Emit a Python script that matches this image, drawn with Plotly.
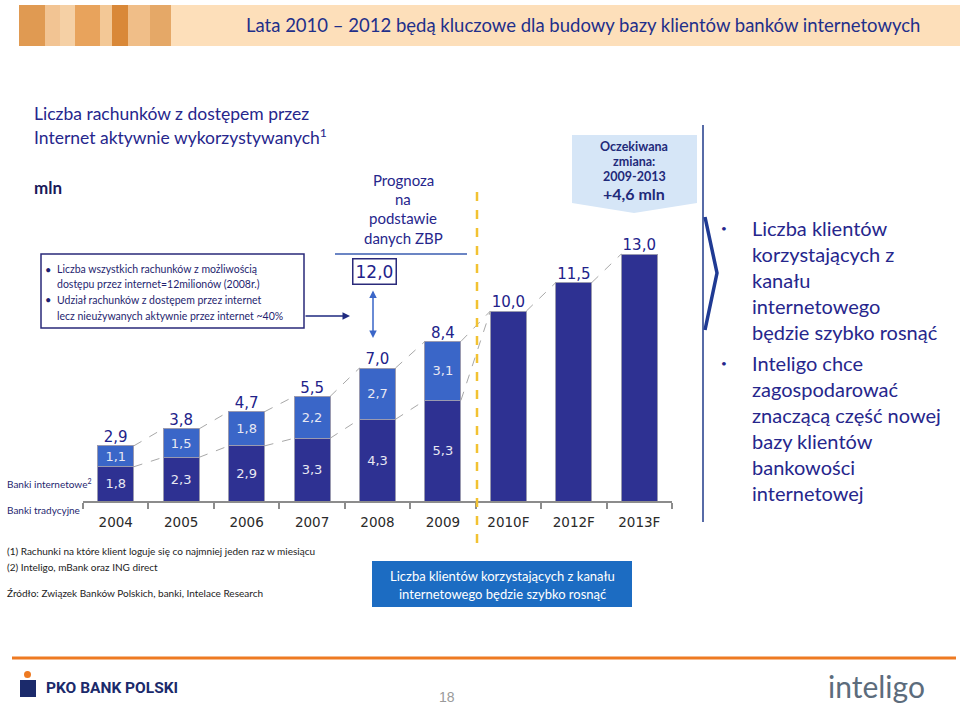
import plotly.graph_objects as go

# ---------------- data ----------------
years = ["2004", "2005", "2006", "2007", "2008", "2009", "2010F", "2012F", "2013F"]
banki_internetowe = [1.8, 2.3, 2.9, 3.3, 4.3, 5.3]
banki_tradycyjne = [1.1, 1.5, 1.8, 2.2, 2.7, 3.1]
prognoza = [10.0, 11.5, 13.0]
prognoza_zbp_2008 = 12.0

W, H = 960, 705
def X(px):
    return px / W
def Y(py):
    return 1 - py / H

def fmt(v):
    return f"{v:.1f}".replace(".", ",")

DARK = "#2E3192"
LIGHT = "#3A66C8"
NAVY = "#22228A"
BARLINE = "#9A9AB0"
BW = 0.55

n_hist = len(banki_internetowe)
x_hist = list(range(n_hist))
x_fc = list(range(n_hist, n_hist + len(prognoza)))
totals = [round(a + b, 1) for a, b in zip(banki_internetowe, banki_tradycyjne)] + prognoza

fig = go.Figure()

fig.add_trace(go.Bar(
    x=x_hist, y=banki_internetowe, width=BW, name="Banki internetowe",
    marker=dict(color=DARK, line=dict(color=BARLINE, width=1)),
    text=[fmt(v) for v in banki_internetowe], textposition="inside",
    insidetextanchor="middle", textangle=0,
    textfont=dict(family="DejaVu Sans", size=13, color="#E8E8F2"),
))
fig.add_trace(go.Bar(
    x=x_hist, y=banki_tradycyjne, width=BW, name="Banki tradycyjne",
    marker=dict(color=LIGHT, line=dict(color=BARLINE, width=1)),
    text=[fmt(v) for v in banki_tradycyjne], textposition="inside",
    insidetextanchor="middle", textangle=0,
    textfont=dict(family="DejaVu Sans", size=13, color="#E8E8F2"),
))
fig.add_trace(go.Bar(
    x=x_fc, y=prognoza, width=BW, name="Prognoza",
    marker=dict(color=DARK, line=dict(color=BARLINE, width=1)),
))

# dashed connectors
lx, ly = [], []
allx = x_hist + x_fc
for i in range(len(allx) - 1):
    lx += [allx[i] + BW / 2, allx[i + 1] - BW / 2, None]
    ly += [totals[i], totals[i + 1], None]
lower = banki_internetowe + [prognoza[0]]
for i in range(len(lower) - 1):
    lx += [i + BW / 2, i + 1 - BW / 2, None]
    ly += [lower[i], lower[i + 1], None]
fig.add_trace(go.Scatter(x=lx, y=ly, mode="lines",
                         line=dict(color="#A8A8A8", width=1, dash="dash"),
                         hoverinfo="skip"))

# totals above bars
fig.add_trace(go.Scatter(
    x=allx, y=totals, mode="text", text=[fmt(v) for v in totals],
    textposition="top center",
    textfont=dict(family="DejaVu Sans", size=15, color=NAVY),
))

fig.update_layout(
    width=W, height=H, margin=dict(l=0, r=0, t=0, b=0),
    paper_bgcolor="white", plot_bgcolor="rgba(0,0,0,0)",
    showlegend=False, barmode="stack",
    xaxis=dict(
        domain=[X(83), X(672)], range=[-0.5, 8.5],
        tickvals=allx, ticktext=years, ticks="",
        showline=True, linecolor="#8C8C8C", linewidth=1.5,
        showgrid=False, zeroline=False, ticklabelstandoff=8,
        tickfont=dict(family="DejaVu Sans", size=13.5, color="#2A2A2A"),
        minor=dict(tickvals=[i - 0.5 for i in range(len(allx) + 1)],
                   ticks="outside", ticklen=6, tickcolor="#8C8C8C", tickwidth=1.5),
    ),
    yaxis=dict(domain=[Y(501), Y(121)], range=[0, 20], visible=False),
)

shapes = []
ann = []

def text(px, py, s, size, color=NAVY, family="Lato", xanchor="left", bold=False):
    if bold:
        s = f"<b>{s}</b>"
    ann.append(dict(x=X(px), y=Y(py), xref="paper", yref="paper", text=s,
                    showarrow=False, xanchor=xanchor, yanchor="middle",
                    font=dict(family=family, size=size, color=color)))

# header band
shapes.append(dict(type="rect", xref="paper", yref="paper", x0=X(171), x1=X(960),
                   y0=Y(46), y1=Y(5), fillcolor="#FDDFBA", line=dict(width=0), layer="below"))
blocks = [(19, 171, "#EDB67A"), (19, 45, "#E09A52"), (45, 60, "#F2C493"), (60, 75, "#F5D0A5"),
          (75, 100, "#E8A35C"), (100, 112, "#F3C896"), (112, 128, "#D98838"),
          (128, 150, "#F0BE88"), (150, 171, "#E5A867")]
for a, b, c in blocks:
    shapes.append(dict(type="rect", xref="paper", yref="paper", x0=X(a), x1=X(b),
                       y0=Y(46), y1=Y(5), fillcolor=c, line=dict(width=0), layer="below"))
text(583, 25, "Lata 2010 – 2012 będą kluczowe dla budowy bazy klientów banków internetowych",
     18.5, color="#1F2F8A", xanchor="center")

# left header texts
text(32, 113, "Liczba rachunków z dostępem przez", 17.5, color="#26268C")
text(32, 137, "Internet aktywnie wykorzystywanych<sup>1</sup>", 17.5, color="#26268C")
text(32, 187, "mln", 17, color="#1A1A5A", bold=True)

# info box
shapes.append(dict(type="rect", xref="paper", yref="paper", x0=X(41), x1=X(304),
                   y0=Y(328), y1=Y(254), line=dict(color="#2A2A7A", width=1.5),
                   fillcolor="rgba(0,0,0,0)"))
box_lines = [(269, "Liczba wszystkich rachunków z możliwością", True),
             (284, "dostępu przez internet=12milionów (2008r.)", False),
             (300, "Udział rachunków z dostępem przez internet", True),
             (316, "lecz nieużywanych aktywnie przez internet ~40%", False)]
for py, s, bullet in box_lines:
    if bullet:
        text(48, py, "•", 11, color="#1F1F70", xanchor="center")
    text(55, py, s, 10.5, color="#1F1F70")
ann.append(dict(x=X(350), y=Y(316), ax=-46, ay=0, xref="paper", yref="paper",
                axref="pixel", ayref="pixel", text="", showarrow=True, arrowhead=2,
                arrowsize=1, arrowwidth=1.5, arrowcolor="#1F2A80"))

# Prognoza ZBP
for py, s in [(180, "Prognoza"), (199, "na"), (218, "podstawie"), (238, "danych ZBP")]:
    text(403, py, s, 15, color="#26268C", xanchor="center")
shapes.append(dict(type="line", xref="paper", yref="paper", x0=X(335), x1=X(467),
                   y0=Y(254), y1=Y(254), line=dict(color="#3A5DB0", width=1.5)))
ann.append(dict(x=4, y=prognoza_zbp_2008 + 0.1, xref="x", yref="y", xshift=-3,
                text=fmt(prognoza_zbp_2008), showarrow=False,
                font=dict(family="DejaVu Sans", size=17, color=NAVY),
                bordercolor="#2A2A7A", borderwidth=1.5, borderpad=2, bgcolor="white"))
ann.append(dict(x=X(373), y=Y(338), ax=0, ay=-49, xref="paper", yref="paper",
                axref="pixel", ayref="pixel", text="", showarrow=True, arrowhead=2,
                startarrowhead=2, arrowside="end+start", arrowsize=1, arrowwidth=1.5,
                arrowcolor="#3A66C8"))

# yellow dashed separator
shapes.append(dict(type="line", xref="paper", yref="paper", x0=X(477), x1=X(477),
                   y0=Y(192), y1=Y(548), line=dict(color="#F2C232", width=2.5, dash="dash")))

# callout
shapes.append(dict(type="path", xref="paper", yref="paper",
                   path=f"M {X(572)} {Y(135)} L {X(697)} {Y(135)} L {X(697)} {Y(203)} "
                        f"L {X(634)} {Y(213)} L {X(572)} {Y(203)} Z",
                   fillcolor="#D6E6F7", line=dict(width=0), layer="below"))
for py, s, sz in [(147, "Oczekiwana", 12.5), (161, "zmiana:", 12.5), (176, "2009-2013", 12.5),
                  (194, "+4,6 mln", 16)]:
    text(634, py, s, sz, color="#1F2A7A", xanchor="center", bold=True)

# right separator and chevron
shapes.append(dict(type="line", xref="paper", yref="paper", x0=X(703), x1=X(703),
                   y0=Y(125), y1=Y(522), line=dict(color="#1F3A8A", width=1.5)))
shapes.append(dict(type="path", xref="paper", yref="paper",
                   path=f"M {X(705)} {Y(217)} L {X(717)} {Y(273)} L {X(705)} {Y(330)}",
                   line=dict(color="#1F3A93", width=3.5)))

# right bullets
b1 = ["Liczba klientów", "korzystających z", "kanału", "internetowego", "będzie szybko rosnąć"]
b2 = ["Inteligo chce", "zagospodarować", "znaczącą część nowej", "bazy klientów",
      "bankowości", "internetowej"]
for k, s in enumerate(b1):
    text(750, 228 + 26 * k, s, 20, color="#26268C")
text(724, 228, "•", 10, color="#26268C", xanchor="center")
for k, s in enumerate(b2):
    text(750, 363 + 26 * k, s, 20, color="#26268C")
text(724, 363, "•", 10, color="#26268C", xanchor="center")

# series labels
text(5, 483, "Banki internetowe<sup>2</sup>", 10, color="#1F1F70")
text(5, 510, "Banki tradycyjne", 10, color="#1F1F70")

# footnotes
text(5, 551, "(1) Rachunki na które klient loguje się co najmniej jeden raz w miesiącu", 10, color="#222222")
text(5, 567, "(2) Inteligo, mBank oraz ING direct", 10, color="#222222")
text(5, 593, "Źródło: Związek Banków Polskich, banki, Intelace Research", 10, color="#222222")

# bottom blue box
shapes.append(dict(type="rect", xref="paper", yref="paper", x0=X(372), x1=X(632),
                   y0=Y(607), y1=Y(561), fillcolor="#1C6CC2", line=dict(width=0)))
text(502, 576, "Liczba klientów korzystających z kanału", 13, color="white", xanchor="center")
text(502, 594, "internetowego będzie szybko rosnąć", 13, color="white", xanchor="center")

# footer
shapes.append(dict(type="line", xref="paper", yref="paper", x0=X(12), x1=X(956),
                   y0=Y(658), y1=Y(658), line=dict(color="#EE7A22", width=3)))
shapes.append(dict(type="rect", xref="paper", yref="paper", x0=X(20), x1=X(36),
                   y0=Y(697), y1=Y(680), fillcolor="#1B2A6B", line=dict(width=0)))
shapes.append(dict(type="circle", xref="paper", yref="paper", x0=X(24), x1=X(31),
                   y0=Y(678), y1=Y(671), fillcolor="#EE7A22", line=dict(width=0)))
text(44, 688, "PKO BANK POLSKI", 15.5, color="#1B2A6B", family="Roboto", bold=True)
text(447, 697, "18", 14, color="#9A9A9A", family="Liberation Sans", xanchor="center")
text(876, 686, "inteligo", 30, color="#5C6C7C", family="Lato", xanchor="center")

fig.update_layout(shapes=shapes, annotations=ann)
fig.write_html("out.html", config={"displayModeBar": False},
               post_script="document.body.style.margin='0px';")
